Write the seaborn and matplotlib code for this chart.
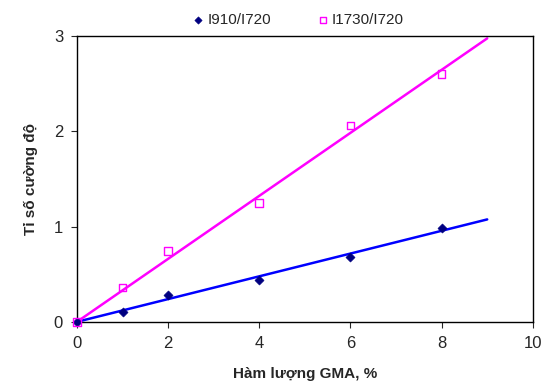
import numpy as np
import pandas as pd
import matplotlib
matplotlib.use('Agg')
import matplotlib.pyplot as plt
import seaborn as sns

# data
gma = [0, 1, 2, 4, 6, 8]
i910 = [0, 0.105, 0.28, 0.44, 0.685, 0.99]
i1730 = [0, 0.36, 0.745, 1.25, 2.06, 2.60]

sns.set_style('ticks')
plt.rcParams['font.family'] = ['Liberation Sans', 'DejaVu Sans']

df = pd.DataFrame({'x': gma, 'I910/I720': i910, 'I1730/I720': i1730})

fig = plt.figure(figsize=(5.42, 3.92), dpi=100)
ax = fig.add_axes([0.142, 0.179, 0.841, 0.729])

# linear trend lines through the origin, drawn 0..9 like the Excel trendline
xt = np.linspace(0, 9, 50)
x = np.array(gma, dtype=float)
for col, c in [('I910/I720', '#0000FF'), ('I1730/I720', '#FF00FF')]:
    y = df[col].to_numpy()
    k = (x * y).sum() / (x * x).sum()
    sns.lineplot(x=xt, y=k * xt, color=c, linewidth=1.8, ax=ax, legend=False)

sns.scatterplot(x='x', y='I910/I720', data=df, marker='D', s=22, color='#000080',
                edgecolor='#000080', ax=ax, label='I910/I720', zorder=5, clip_on=False)
sns.scatterplot(x='x', y='I1730/I720', data=df, marker='s', s=30, facecolor='none',
                edgecolor='#FF00FF', linewidth=1.0, ax=ax, label='I1730/I720', zorder=6,
                clip_on=False)

ax.set_xlim(0, 10)
ax.set_ylim(0, 3)
ax.set_xticks([0, 2, 4, 6, 8, 10])
ax.set_yticks([0, 1, 2, 3])
ax.tick_params(direction='out', length=4, width=0.8, labelsize=12, pad=6)
for s in ax.spines.values():
    s.set_linewidth(1.0)
    s.set_color('black')

ax.set_xlabel('Hàm lượng GMA, %', fontsize=11, fontweight='bold', labelpad=12)
ax.set_ylabel('Tỉ số cường độ', fontsize=11, fontweight='bold', labelpad=11)

ax.legend(loc='lower center', bbox_to_anchor=(0.485, 1.0), ncol=2, frameon=False,
          fontsize=11, handlelength=0.8, handletextpad=0.2, columnspacing=3.0,
          borderaxespad=0.2, markerscale=0.8)

plt.savefig('out.png', dpi=100)
